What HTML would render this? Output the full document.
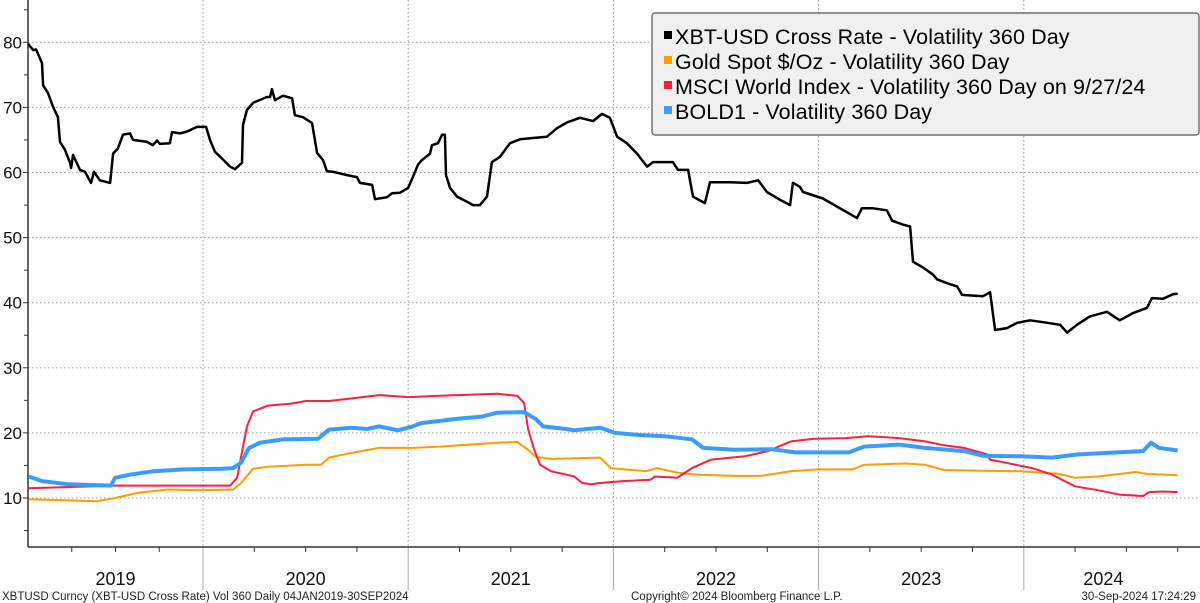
<!DOCTYPE html>
<html><head><meta charset="utf-8">
<style>
html,body{margin:0;padding:0;background:#fff;}
svg{display:block;font-family:"Liberation Sans","DejaVu Sans",sans-serif;}
</style></head>
<body>
<svg id="chart" width="1200" height="603" viewBox="0 0 1200 603" xmlns="http://www.w3.org/2000/svg">
<rect x="0" y="0" width="1200" height="603" fill="#fff"/>
<g id="grid"></g><g id="axes"></g><g id="series"></g>
<g id="legend">
<rect x="652" y="13" width="547" height="122" rx="3" fill="#f0f0f0" stroke="#555" stroke-width="1.2"/>
<g><rect x="664" y="31" width="8" height="8" fill="#000"/><text x="675" y="44" font-size="21.5" letter-spacing="0.1" fill="#000">XBT-USD Cross Rate - Volatility 360 Day</text></g>
<g><rect x="664" y="56" width="8" height="8" fill="#ff9e00"/><text x="675" y="69" font-size="21.5" letter-spacing="0.1" fill="#000">Gold Spot $/Oz - Volatility 360 Day</text></g>
<g><rect x="664" y="81" width="8" height="8" fill="#ff1f40"/><text x="675" y="94" font-size="21.5" letter-spacing="0.1" fill="#000">MSCI World Index - Volatility 360 Day on 9/27/24</text></g>
<g><rect x="664" y="106" width="8" height="8" fill="#3a9cff"/><text x="675" y="119" font-size="21.5" letter-spacing="0.1" fill="#000">BOLD1 - Volatility 360 Day</text></g>
</g>
<text x="2" y="600" font-size="11.5" fill="#222">XBTUSD Curncy (XBT-USD Cross Rate) Vol 360  Daily 04JAN2019-30SEP2024</text>
<text x="631" y="600" font-size="11.5" fill="#222">Copyright© 2024 Bloomberg Finance L.P.</text>
<text x="1196" y="600" font-size="11.5" fill="#222" text-anchor="end">30-Sep-2024 17:24:29</text>
</svg>
<script>
const yTicks=[10,20,30,40,50,60,70,80];
const years=[2019,2020,2021,2022,2023,2024];
const btcDates=[2019.000,2019.029,2019.046,2019.080,2019.086,2019.114,2019.143,2019.171,2019.183,2019.211,2019.240,2019.246,2019.257,2019.297,2019.326,2019.360,2019.377,2019.411,2019.469,2019.486,2019.514,2019.543,2019.583,2019.600,2019.680,2019.714,2019.737,2019.754,2019.811,2019.823,2019.869,2019.909,2019.926,2019.966,2020.015,2020.034,2020.058,2020.097,2020.132,2020.156,2020.190,2020.195,2020.214,2020.244,2020.312,2020.327,2020.336,2020.351,2020.390,2020.434,2020.448,2020.487,2020.531,2020.556,2020.585,2020.604,2020.634,2020.702,2020.750,2020.765,2020.824,2020.838,2020.897,2020.921,2020.960,2020.999,2021.023,2021.033,2021.048,2021.067,2021.106,2021.116,2021.145,2021.165,2021.179,2021.184,2021.204,2021.238,2021.287,2021.316,2021.350,2021.384,2021.408,2021.447,2021.496,2021.545,2021.608,2021.676,2021.725,2021.774,2021.837,2021.901,2021.944,2021.983,2022.018,2022.066,2022.115,2022.164,2022.193,2022.290,2022.315,2022.364,2022.388,2022.446,2022.471,2022.568,2022.651,2022.705,2022.748,2022.812,2022.861,2022.875,2022.909,2022.924,2023.021,2023.187,2023.211,2023.265,2023.333,2023.358,2023.411,2023.446,2023.460,2023.509,2023.558,2023.577,2023.626,2023.675,2023.699,2023.801,2023.836,2023.860,2023.918,2023.967,2024.030,2024.094,2024.177,2024.211,2024.259,2024.322,2024.405,2024.468,2024.532,2024.600,2024.625,2024.678,2024.727,2024.750];
const btcVals=[79.8,78.8,78.9,76.8,73.4,72.2,70.1,68.5,64.7,63.5,61.5,60.7,62.7,60.4,60.1,58.4,60.1,58.8,58.4,62.9,63.7,65.8,66.0,65.0,64.7,64.2,64.9,64.4,64.5,66.2,66.0,66.3,66.5,67.0,67.0,65.0,63.2,62.0,60.9,60.5,61.5,67.3,69.6,70.7,71.6,71.6,72.8,71.1,71.8,71.4,68.8,68.5,67.6,63.0,61.9,60.2,60.1,59.6,59.3,58.4,58.1,55.9,56.2,56.8,56.9,57.6,59.3,60.1,61.2,61.9,62.9,64.2,64.5,65.8,65.8,59.6,57.6,56.3,55.5,55.0,55.0,56.3,61.6,62.4,64.5,65.1,65.3,65.5,66.8,67.7,68.4,67.9,69.0,68.4,65.5,64.5,62.9,60.9,61.6,61.6,60.4,60.4,56.3,55.3,58.5,58.5,58.4,58.8,57.0,55.8,55.0,58.4,57.8,57.0,56.0,53.0,54.5,54.5,54.2,52.6,52.0,51.7,46.3,45.4,44.3,43.6,43.0,42.5,41.2,41.0,41.6,35.8,36.1,36.9,37.3,37.0,36.6,35.4,36.6,37.9,38.6,37.3,38.4,39.2,40.7,40.6,41.3,41.4];
const goldDates=[2019.004,2019.280,2019.389,2019.497,2019.629,2019.800,2019.977,2020.146,2020.185,2020.244,2020.317,2020.502,2020.575,2020.614,2020.687,2020.858,2021.023,2021.155,2021.433,2021.531,2021.585,2021.623,2021.697,2021.935,2021.988,2022.159,2022.213,2022.310,2022.403,2022.588,2022.719,2022.865,2022.997,2023.168,2023.221,2023.426,2023.519,2023.611,2023.801,2023.986,2024.171,2024.249,2024.361,2024.547,2024.600,2024.750];
const goldVals=[9.8,9.6,9.5,10.0,10.8,11.3,11.2,11.3,12.3,14.5,14.8,15.1,15.1,16.2,16.7,17.7,17.7,17.9,18.5,18.6,17.4,16.3,16.0,16.2,14.6,14.1,14.6,13.9,13.6,13.4,13.4,14.1,14.4,14.4,15.1,15.3,15.1,14.3,14.2,14.1,13.7,13.1,13.3,14.0,13.7,13.5];
const msciDates=[2019.004,2019.497,2019.783,2020.132,2020.166,2020.195,2020.214,2020.244,2020.317,2020.429,2020.502,2020.614,2020.726,2020.858,2021.004,2021.155,2021.433,2021.531,2021.565,2021.585,2021.614,2021.643,2021.697,2021.770,2021.809,2021.848,2021.892,2021.935,2022.047,2022.179,2022.203,2022.310,2022.383,2022.476,2022.641,2022.753,2022.865,2022.978,2023.129,2023.241,2023.392,2023.519,2023.611,2023.708,2023.821,2023.835,2023.913,2024.040,2024.137,2024.249,2024.361,2024.468,2024.581,2024.610,2024.678,2024.750];
const msciVals=[11.5,11.9,11.9,11.9,13.1,17.9,21.0,23.3,24.2,24.5,24.9,24.9,25.3,25.8,25.5,25.7,26.0,25.7,24.6,20.5,17.4,15.1,14.1,13.6,13.3,12.3,12.1,12.3,12.6,12.8,13.3,13.1,14.6,15.9,16.4,17.2,18.7,19.1,19.2,19.5,19.2,18.7,18.1,17.7,16.7,15.9,15.4,14.6,13.6,11.8,11.2,10.5,10.3,10.9,11.0,10.9];
const boldDates=[2019.004,2019.080,2019.234,2019.474,2019.497,2019.583,2019.714,2019.891,2020.093,2020.146,2020.185,2020.224,2020.278,2020.390,2020.560,2020.614,2020.726,2020.799,2020.858,2020.950,2021.023,2021.062,2021.248,2021.360,2021.433,2021.565,2021.623,2021.657,2021.769,2021.808,2021.935,2022.008,2022.120,2022.251,2022.383,2022.437,2022.588,2022.773,2022.885,2023.148,2023.221,2023.392,2023.519,2023.708,2023.801,2023.986,2024.137,2024.264,2024.454,2024.581,2024.620,2024.659,2024.750];
const boldVals=[13.3,12.6,12.1,11.9,13.1,13.6,14.1,14.4,14.5,14.6,15.4,17.7,18.5,19.0,19.1,20.5,20.8,20.6,21.0,20.4,21.0,21.5,22.2,22.5,23.1,23.2,22.1,21.0,20.6,20.4,20.8,20.0,19.7,19.5,19.0,17.7,17.4,17.5,17.0,17.0,17.9,18.2,17.7,17.2,16.5,16.4,16.2,16.7,17.0,17.2,18.5,17.7,17.3];

const NS='http://www.w3.org/2000/svg';
const plotL=28,plotR=1200,axisY=547;
function xScale(t){return t<2020?28+(t-2019)*175:203+(t-2020)*205.2;}
function yScale(v){return 42.3+(80-v)*6.51;}
function mk(tag,attrs,parent){const e=document.createElementNS(NS,tag);for(const k in attrs)e.setAttribute(k,attrs[k]);parent.appendChild(e);return e;}
const grid=document.getElementById('grid'),axes=document.getElementById('axes'),series=document.getElementById('series');

yTicks.forEach(v=>{
  const y=yScale(v);
  const g=mk('line',{x1:plotL,x2:plotR,y1:y,y2:y,stroke:'#999','stroke-width':1,'stroke-dasharray':'1.5,2.5'},grid);
  
  
  const tk=mk('line',{x1:plotL-5,x2:plotL,y1:y,y2:y,stroke:'#333','stroke-width':1},axes);
  
  
  const t=mk('text',{x:22,y:y+6,'font-size':17,'text-anchor':'end',fill:'#111'},axes);
  t.textContent=v;
  
  
});
for(let v=5;v<=85;v+=10){
  const y=yScale(v);
  const tk=mk('line',{x1:plotL-4,x2:plotL,y1:y,y2:y,stroke:'#333','stroke-width':1},axes);
  
  
}
years.forEach(yr=>{
  const x0=yr===2019?plotL:xScale(yr), x1=yr===2024?1183:xScale(yr+1);
  if(yr>2019){
    const g=mk('line',{x1:x0,x2:x0,y1:0,y2:axisY,stroke:'#999','stroke-width':1,'stroke-dasharray':'1.5,2.5'},grid);
    
    
    const s=mk('line',{x1:x0,x2:x0,y1:axisY,y2:590,stroke:'#aaa','stroke-width':1},axes);
    
    
  }
  for(let q=1;q<4;q++){
    const xq=xScale(yr+q/4);
    if(xq>1183)continue;
    const tk=mk('line',{x1:xq,x2:xq,y1:axisY,y2:axisY+5,stroke:'#333','stroke-width':1},axes);
    
    
  }
  const t=mk('text',{x:(x0+x1)/2,y:585,'font-size':18,'text-anchor':'middle',fill:'#111'},axes);
  t.textContent=yr;
  
  
});
const ya=mk('line',{x1:plotL,x2:plotL,y1:0,y2:axisY,stroke:'#333','stroke-width':1.5},axes);


const xa=mk('line',{x1:plotL,x2:plotR,y1:axisY,y2:axisY,stroke:'#333','stroke-width':1.5},axes);



function drawLine(dates,vals,color,w,name){
  const d=dates.map((t,i)=>(i?'L':'M')+xScale(t).toFixed(1)+','+yScale(vals[i]).toFixed(1)).join('');
  const p=mk('path',{d:d,fill:'none',stroke:color,'stroke-width':w,'stroke-linejoin':'round'},series);
  
  
}
drawLine(goldDates,goldVals,'#ff9e00',2,'gold-volatility-line');
drawLine(msciDates,msciVals,'#ff1f40',2,'msci-volatility-line');
drawLine(boldDates,boldVals,'#3a9cff',4,'bold1-volatility-line');
drawLine(btcDates,btcVals,'#000',2.5,'xbt-volatility-line');
</script>
</body></html>
